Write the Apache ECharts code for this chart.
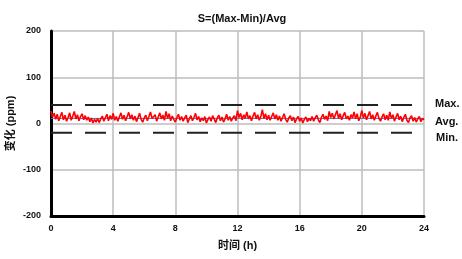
<!DOCTYPE html>
<html><head><meta charset="utf-8">
<script src="https://cdn.jsdelivr.net/npm/echarts@6/dist/echarts.min.js"></script>
<style>html,body{margin:0;padding:0;background:#fff}#c{width:462px;height:259px}</style>
</head><body><div id="c"></div>
<script>
const titleText = 'S=(Max-Min)/Avg';
const xName = '时间 (h)';
const yName = '变化 (ppm)';
const xTicks = [0, 4, 8, 12, 16, 20, 24];
const yTicks = [-200, -100, 0, 100, 200];
const sampleStep = 0.1; // hours between samples
const ppm = [
 27,14,22,9,20,6,15,24,8,18,5,13,23,7,16,26,10,19,6,15,21,8,17,7,
 14,4,12,1,9,3,11,2,10,16,5,13,20,6,17,9,22,7,15,5,14,23,9,18,
 6,15,24,10,19,7,16,4,13,22,9,3,12,18,6,15,25,11,7,19,5,14,23,10,
 18,7,26,11,21,6,16,9,3,13,20,7,15,5,12,18,2,10,17,6,13,22,8,15,
 4,12,6,15,1,9,14,5,17,10,2,12,18,6,14,3,10,20,7,15,5,12,17,6,
 28,13,22,8,19,11,25,10,17,6,16,24,10,19,7,15,30,11,21,8,18,7,15,23,
 10,19,7,16,5,13,21,9,3,12,17,6,14,2,10,15,5,12,1,9,14,4,11,6,
 15,5,12,18,8,2,13,20,9,16,6,26,13,22,10,19,28,11,21,8,17,24,10,16,
 7,19,12,25,10,21,6,14,28,12,22,8,17,26,10,19,7,16,24,11,5,14,21,8,
 18,7,25,11,19,5,14,22,8,16,4,13,20,7,2,12,17,5,13,3,10,15,4,11,8
];
const refNames = ['Max.', 'Avg.', 'Min.'];
const refValues = [40, 11, -20];

const chart = echarts.init(document.getElementById('c'));
const font = 'Liberation Sans, Arial, Noto Sans CJK SC, sans-serif';
const redData = ppm.map((v, i) => [+(i * sampleStep).toFixed(2), v]);
const xMin = xTicks[0], xMax = xTicks[xTicks.length - 1];
const refSeries = refValues.map((v, k) => ({
  type: 'line', silent: true, symbol: 'none', z: k === 1 ? 1 : 3,
  data: [[xMin, v], [xMax, v]],
  lineStyle: k === 1 ? {color: '#4a6fd0', width: 1} : {color: '#222', width: 2, type: [21, 13]},
  endLabel: {show: true, formatter: refNames[k], color: '#111', fontFamily: font, fontWeight: 'bold', fontSize: 11,
    overflow: 'none',
    offset: [k === 2 ? 4 : 3, k === 0 ? -1 : (k === 1 ? 4 : 5)]}
}));
chart.setOption({
  animation: false,
  title: {text: titleText, left: 237, top: 8, textAlign: 'center',
    textStyle: {fontFamily: font, fontWeight: 'bold', fontSize: 11, color: '#111'}},
  grid: {left: 51, right: 38, top: 31, bottom: 43, containLabel: false, outerBoundsMode: 'none'},
  xAxis: {type: 'value', min: xMin, max: xMax, interval: 4,
    name: xName, nameLocation: 'middle', nameGap: 24, nameMoveOverlap: false,
    nameTextStyle: {fontFamily: font, fontWeight: 'bold', fontSize: 11, color: '#111'},
    axisLine: {onZero: false, lineStyle: {color: '#000', width: 3}},
    axisTick: {show: false},
    axisLabel: {fontFamily: font, fontWeight: 'bold', fontSize: 9, color: '#111', margin: 8},
    splitLine: {show: true, lineStyle: {color: '#bdbdbd', width: 1.5}}},
  yAxis: {type: 'value', min: yTicks[0], max: yTicks[yTicks.length - 1], interval: 100,
    name: yName, nameLocation: 'middle', nameGap: 35, nameRotate: 90, nameMoveOverlap: false,
    nameTextStyle: {fontFamily: font, fontWeight: 'bold', fontSize: 11, color: '#111'},
    axisLine: {show: true, lineStyle: {color: '#000', width: 3}},
    axisTick: {show: false},
    axisLabel: {fontFamily: font, fontWeight: 'bold', fontSize: 9, color: '#111', margin: 10},
    splitLine: {show: true, lineStyle: {color: '#bdbdbd', width: 1.5}}},
  series: [
    ...refSeries,
    {type: 'line', symbol: 'none', z: 2, data: redData, lineStyle: {color: '#ff0000', width: 1.6}}
  ]
});
</script></body></html>
